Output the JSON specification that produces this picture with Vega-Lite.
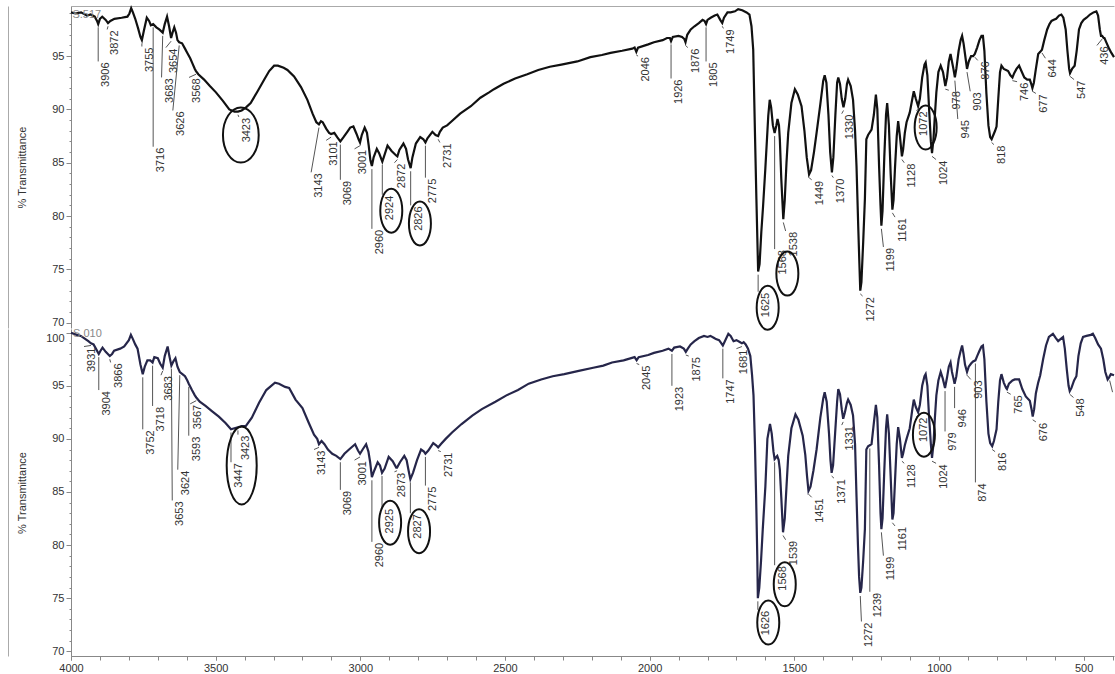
{
"$schema":"https://vega.github.io/schema/vega-lite/v6.json",
"padding":{"left":8,"top":3,"right":0,"bottom":0},
"background":"white",
"spacing":1,
"bounds":"flush",
"config":{"view":{"stroke":null},"font":"Liberation Sans","axis":{"grid":false,"labelFont":"Liberation Sans","titleFont":"Liberation Sans"}},
"datasets":{
"top":[{"w":4000,"v":99.1},{"w":3985,"v":99.0},{"w":3965,"v":99.1},{"w":3945,"v":98.8},{"w":3932,"v":98.9},{"w":3918,"v":98.7},{"w":3910,"v":98.3},{"w":3906,"v":98.0},{"w":3900,"v":98.5},{"w":3892,"v":98.7},{"w":3880,"v":98.4},{"w":3872,"v":98.1},{"w":3864,"v":98.3},{"w":3850,"v":98.5},{"w":3825,"v":98.6},{"w":3805,"v":98.7},{"w":3798,"v":99.0},{"w":3792,"v":99.5},{"w":3786,"v":99.1},{"w":3778,"v":98.5},{"w":3768,"v":97.6},{"w":3760,"v":96.8},{"w":3755,"v":96.5},{"w":3748,"v":97.4},{"w":3738,"v":98.6},{"w":3730,"v":98.3},{"w":3724,"v":97.9},{"w":3716,"v":98.0},{"w":3705,"v":97.7},{"w":3695,"v":97.5},{"w":3683,"v":97.2},{"w":3676,"v":98.0},{"w":3668,"v":98.7},{"w":3661,"v":97.8},{"w":3654,"v":96.7},{"w":3649,"v":97.2},{"w":3643,"v":97.7},{"w":3637,"v":97.2},{"w":3632,"v":96.5},{"w":3626,"v":96.3},{"w":3616,"v":96.2},{"w":3606,"v":95.7},{"w":3598,"v":95.3},{"w":3588,"v":94.8},{"w":3580,"v":94.3},{"w":3572,"v":93.8},{"w":3568,"v":93.6},{"w":3560,"v":93.3},{"w":3540,"v":92.8},{"w":3520,"v":92.2},{"w":3499,"v":91.6},{"w":3475,"v":90.8},{"w":3453,"v":90.0},{"w":3435,"v":89.8},{"w":3423,"v":89.8},{"w":3410,"v":89.9},{"w":3395,"v":90.2},{"w":3379,"v":90.6},{"w":3355,"v":91.7},{"w":3332,"v":92.8},{"w":3315,"v":93.6},{"w":3298,"v":94.1},{"w":3285,"v":94.1},{"w":3265,"v":93.9},{"w":3252,"v":93.7},{"w":3229,"v":93.1},{"w":3205,"v":92.1},{"w":3183,"v":90.9},{"w":3165,"v":89.6},{"w":3152,"v":88.8},{"w":3143,"v":88.6},{"w":3136,"v":88.9},{"w":3130,"v":88.8},{"w":3118,"v":88.2},{"w":3108,"v":87.8},{"w":3101,"v":87.7},{"w":3090,"v":87.8},{"w":3080,"v":87.4},{"w":3069,"v":87.0},{"w":3058,"v":87.4},{"w":3045,"v":87.9},{"w":3035,"v":88.3},{"w":3024,"v":88.4},{"w":3013,"v":87.7},{"w":3006,"v":87.2},{"w":3001,"v":86.9},{"w":2995,"v":87.6},{"w":2985,"v":88.3},{"w":2977,"v":87.8},{"w":2971,"v":86.6},{"w":2965,"v":85.2},{"w":2960,"v":84.7},{"w":2954,"v":85.5},{"w":2943,"v":86.3},{"w":2935,"v":85.9},{"w":2924,"v":85.1},{"w":2918,"v":85.6},{"w":2906,"v":86.6},{"w":2892,"v":86.1},{"w":2877,"v":85.7},{"w":2872,"v":85.6},{"w":2865,"v":86.2},{"w":2851,"v":86.8},{"w":2842,"v":86.3},{"w":2835,"v":85.3},{"w":2826,"v":84.5},{"w":2820,"v":85.5},{"w":2808,"v":86.8},{"w":2793,"v":87.4},{"w":2782,"v":87.2},{"w":2775,"v":86.9},{"w":2768,"v":87.3},{"w":2751,"v":87.9},{"w":2740,"v":87.6},{"w":2731,"v":87.5},{"w":2725,"v":87.9},{"w":2715,"v":88.3},{"w":2700,"v":88.5},{"w":2688,"v":88.8},{"w":2655,"v":89.6},{"w":2618,"v":90.3},{"w":2585,"v":91.1},{"w":2555,"v":91.6},{"w":2538,"v":91.9},{"w":2505,"v":92.4},{"w":2465,"v":92.9},{"w":2423,"v":93.3},{"w":2385,"v":93.7},{"w":2345,"v":94.0},{"w":2305,"v":94.2},{"w":2250,"v":94.5},{"w":2205,"v":94.9},{"w":2165,"v":95.1},{"w":2135,"v":95.3},{"w":2095,"v":95.5},{"w":2060,"v":95.7},{"w":2052,"v":95.8},{"w":2046,"v":95.4},{"w":2040,"v":95.8},{"w":2005,"v":96.1},{"w":1985,"v":96.3},{"w":1955,"v":96.5},{"w":1940,"v":96.7},{"w":1930,"v":96.7},{"w":1926,"v":96.4},{"w":1920,"v":96.8},{"w":1900,"v":96.9},{"w":1888,"v":96.8},{"w":1880,"v":96.6},{"w":1876,"v":96.3},{"w":1870,"v":97.0},{"w":1858,"v":97.5},{"w":1845,"v":97.8},{"w":1830,"v":98.1},{"w":1817,"v":98.4},{"w":1810,"v":98.3},{"w":1805,"v":98.0},{"w":1800,"v":98.4},{"w":1789,"v":98.6},{"w":1775,"v":98.8},{"w":1766,"v":98.9},{"w":1756,"v":98.4},{"w":1749,"v":98.1},{"w":1743,"v":98.6},{"w":1731,"v":99.1},{"w":1720,"v":99.1},{"w":1705,"v":99.2},{"w":1694,"v":99.4},{"w":1680,"v":99.3},{"w":1665,"v":99.1},{"w":1655,"v":98.9},{"w":1648,"v":97.8},{"w":1642,"v":95.6},{"w":1636,"v":87.8},{"w":1631,"v":81.6},{"w":1625,"v":74.8},{"w":1620,"v":75.5},{"w":1614,"v":78.5},{"w":1608,"v":80.9},{"w":1600,"v":84.5},{"w":1590,"v":89.4},{"w":1585,"v":90.9},{"w":1580,"v":90.2},{"w":1574,"v":88.5},{"w":1568,"v":87.8},{"w":1562,"v":88.5},{"w":1558,"v":89.1},{"w":1553,"v":88.5},{"w":1550,"v":87.2},{"w":1545,"v":83.5},{"w":1538,"v":79.7},{"w":1533,"v":81.5},{"w":1527,"v":85.0},{"w":1521,"v":87.8},{"w":1510,"v":90.6},{"w":1498,"v":91.9},{"w":1488,"v":91.4},{"w":1475,"v":90.3},{"w":1465,"v":88.0},{"w":1457,"v":85.5},{"w":1449,"v":83.9},{"w":1442,"v":84.3},{"w":1432,"v":86.0},{"w":1423,"v":87.8},{"w":1410,"v":90.5},{"w":1400,"v":92.7},{"w":1395,"v":93.2},{"w":1389,"v":92.5},{"w":1382,"v":89.5},{"w":1376,"v":86.0},{"w":1370,"v":84.1},{"w":1365,"v":85.5},{"w":1358,"v":89.5},{"w":1352,"v":92.5},{"w":1348,"v":93.0},{"w":1342,"v":92.4},{"w":1336,"v":91.0},{"w":1330,"v":90.2},{"w":1324,"v":91.0},{"w":1318,"v":92.4},{"w":1314,"v":92.8},{"w":1305,"v":92.2},{"w":1297,"v":90.9},{"w":1290,"v":88.0},{"w":1285,"v":84.7},{"w":1279,"v":79.0},{"w":1275,"v":75.5},{"w":1272,"v":73.0},{"w":1268,"v":73.8},{"w":1262,"v":77.5},{"w":1256,"v":81.6},{"w":1251,"v":87.2},{"w":1245,"v":87.6},{"w":1233,"v":88.1},{"w":1225,"v":89.5},{"w":1218,"v":91.4},{"w":1213,"v":90.0},{"w":1207,"v":84.7},{"w":1202,"v":81.0},{"w":1199,"v":79.1},{"w":1195,"v":80.5},{"w":1189,"v":85.5},{"w":1183,"v":89.5},{"w":1179,"v":90.6},{"w":1173,"v":88.5},{"w":1167,"v":84.0},{"w":1161,"v":80.6},{"w":1157,"v":81.5},{"w":1152,"v":84.5},{"w":1146,"v":87.5},{"w":1141,"v":88.9},{"w":1135,"v":87.5},{"w":1128,"v":85.6},{"w":1124,"v":86.2},{"w":1118,"v":87.8},{"w":1112,"v":88.8},{"w":1101,"v":89.7},{"w":1092,"v":91.0},{"w":1087,"v":91.7},{"w":1080,"v":91.0},{"w":1072,"v":90.3},{"w":1066,"v":91.0},{"w":1058,"v":93.0},{"w":1050,"v":94.2},{"w":1046,"v":94.4},{"w":1040,"v":93.2},{"w":1034,"v":90.0},{"w":1028,"v":87.0},{"w":1024,"v":85.9},{"w":1019,"v":87.2},{"w":1014,"v":89.5},{"w":1009,"v":91.6},{"w":1002,"v":93.5},{"w":994,"v":94.1},{"w":986,"v":93.5},{"w":978,"v":92.2},{"w":972,"v":93.0},{"w":966,"v":94.5},{"w":960,"v":95.2},{"w":955,"v":94.5},{"w":950,"v":93.8},{"w":945,"v":93.0},{"w":940,"v":93.8},{"w":932,"v":95.5},{"w":925,"v":96.5},{"w":920,"v":96.9},{"w":915,"v":96.2},{"w":910,"v":95.2},{"w":903,"v":93.8},{"w":897,"v":94.5},{"w":889,"v":95.0},{"w":882,"v":95.0},{"w":876,"v":95.2},{"w":868,"v":95.8},{"w":860,"v":96.5},{"w":853,"v":96.9},{"w":848,"v":96.9},{"w":843,"v":95.5},{"w":836,"v":91.5},{"w":829,"v":88.5},{"w":823,"v":87.4},{"w":818,"v":87.2},{"w":812,"v":87.6},{"w":806,"v":88.0},{"w":801,"v":88.4},{"w":795,"v":91.0},{"w":789,"v":93.5},{"w":784,"v":94.1},{"w":776,"v":93.8},{"w":768,"v":93.7},{"w":761,"v":93.6},{"w":753,"v":93.2},{"w":746,"v":93.0},{"w":740,"v":93.4},{"w":732,"v":93.8},{"w":723,"v":94.1},{"w":715,"v":93.6},{"w":705,"v":93.0},{"w":695,"v":92.8},{"w":686,"v":92.8},{"w":680,"v":92.3},{"w":677,"v":92.0},{"w":672,"v":92.5},{"w":665,"v":93.8},{"w":657,"v":95.2},{"w":650,"v":95.4},{"w":644,"v":95.6},{"w":636,"v":96.5},{"w":626,"v":97.5},{"w":618,"v":98.0},{"w":611,"v":98.3},{"w":603,"v":98.4},{"w":595,"v":98.5},{"w":585,"v":98.8},{"w":577,"v":98.9},{"w":570,"v":98.6},{"w":562,"v":97.5},{"w":556,"v":95.5},{"w":550,"v":93.8},{"w":547,"v":93.4},{"w":540,"v":93.8},{"w":531,"v":94.1},{"w":524,"v":95.5},{"w":516,"v":97.5},{"w":508,"v":98.1},{"w":500,"v":98.4},{"w":490,"v":98.6},{"w":478,"v":98.9},{"w":466,"v":99.1},{"w":456,"v":99.2},{"w":450,"v":98.8},{"w":444,"v":97.5},{"w":440,"v":96.9},{"w":436,"v":96.9},{"w":431,"v":96.7},{"w":428,"v":96.7},{"w":420,"v":96.2},{"w":412,"v":95.7},{"w":404,"v":95.3},{"w":395,"v":94.9}],
"bot":[{"w":4000,"v":100.0},{"w":3980,"v":99.8},{"w":3966,"v":99.7},{"w":3950,"v":99.4},{"w":3940,"v":99.2},{"w":3931,"v":99.0},{"w":3922,"v":98.9},{"w":3914,"v":98.5},{"w":3904,"v":98.0},{"w":3898,"v":98.3},{"w":3891,"v":98.6},{"w":3880,"v":98.2},{"w":3866,"v":97.8},{"w":3858,"v":98.0},{"w":3851,"v":98.3},{"w":3830,"v":98.5},{"w":3816,"v":98.7},{"w":3800,"v":99.3},{"w":3793,"v":99.8},{"w":3786,"v":99.4},{"w":3778,"v":98.9},{"w":3770,"v":98.5},{"w":3760,"v":97.0},{"w":3752,"v":96.1},{"w":3745,"v":96.8},{"w":3736,"v":97.4},{"w":3726,"v":97.4},{"w":3718,"v":97.2},{"w":3712,"v":97.7},{"w":3700,"v":97.6},{"w":3692,"v":97.1},{"w":3683,"v":96.7},{"w":3676,"v":97.8},{"w":3666,"v":98.7},{"w":3660,"v":97.8},{"w":3653,"v":96.9},{"w":3646,"v":97.3},{"w":3639,"v":97.6},{"w":3632,"v":96.8},{"w":3624,"v":96.3},{"w":3615,"v":96.1},{"w":3606,"v":95.9},{"w":3598,"v":95.5},{"w":3593,"v":95.2},{"w":3582,"v":94.6},{"w":3572,"v":94.1},{"w":3567,"v":93.9},{"w":3555,"v":93.5},{"w":3535,"v":93.1},{"w":3512,"v":92.6},{"w":3489,"v":92.1},{"w":3466,"v":91.5},{"w":3447,"v":90.9},{"w":3435,"v":91.0},{"w":3423,"v":91.1},{"w":3410,"v":91.2},{"w":3396,"v":91.2},{"w":3375,"v":92.0},{"w":3350,"v":93.4},{"w":3325,"v":94.6},{"w":3295,"v":95.3},{"w":3281,"v":95.2},{"w":3260,"v":94.9},{"w":3246,"v":94.8},{"w":3224,"v":93.7},{"w":3200,"v":92.9},{"w":3178,"v":91.5},{"w":3160,"v":90.4},{"w":3149,"v":90.0},{"w":3143,"v":89.5},{"w":3134,"v":89.8},{"w":3124,"v":89.5},{"w":3112,"v":89.0},{"w":3097,"v":88.6},{"w":3083,"v":88.4},{"w":3069,"v":88.1},{"w":3055,"v":88.6},{"w":3039,"v":89.0},{"w":3018,"v":89.5},{"w":3008,"v":88.9},{"w":3001,"v":88.6},{"w":2992,"v":89.0},{"w":2980,"v":89.5},{"w":2972,"v":88.8},{"w":2966,"v":87.8},{"w":2960,"v":86.4},{"w":2952,"v":87.0},{"w":2940,"v":87.8},{"w":2932,"v":87.5},{"w":2925,"v":86.8},{"w":2916,"v":87.2},{"w":2902,"v":88.3},{"w":2888,"v":87.9},{"w":2876,"v":87.3},{"w":2873,"v":87.3},{"w":2863,"v":87.8},{"w":2848,"v":88.4},{"w":2840,"v":88.0},{"w":2833,"v":87.0},{"w":2827,"v":86.2},{"w":2818,"v":86.8},{"w":2804,"v":88.0},{"w":2790,"v":89.0},{"w":2780,"v":88.8},{"w":2775,"v":88.6},{"w":2765,"v":88.9},{"w":2748,"v":89.6},{"w":2738,"v":89.4},{"w":2731,"v":89.2},{"w":2722,"v":89.5},{"w":2705,"v":90.0},{"w":2683,"v":90.6},{"w":2650,"v":91.4},{"w":2613,"v":92.2},{"w":2580,"v":92.8},{"w":2533,"v":93.5},{"w":2495,"v":94.1},{"w":2455,"v":94.6},{"w":2418,"v":95.2},{"w":2375,"v":95.6},{"w":2335,"v":95.9},{"w":2295,"v":96.1},{"w":2245,"v":96.4},{"w":2195,"v":96.7},{"w":2160,"v":96.9},{"w":2130,"v":97.2},{"w":2090,"v":97.4},{"w":2052,"v":97.7},{"w":2045,"v":97.4},{"w":2038,"v":97.7},{"w":2005,"v":97.9},{"w":1985,"v":98.1},{"w":1955,"v":98.3},{"w":1935,"v":98.5},{"w":1923,"v":98.3},{"w":1915,"v":98.6},{"w":1895,"v":98.7},{"w":1882,"v":98.5},{"w":1875,"v":98.2},{"w":1868,"v":98.5},{"w":1858,"v":98.9},{"w":1845,"v":99.2},{"w":1830,"v":99.5},{"w":1812,"v":99.7},{"w":1800,"v":99.6},{"w":1790,"v":99.7},{"w":1777,"v":99.5},{"w":1771,"v":99.4},{"w":1760,"v":99.3},{"w":1752,"v":99.0},{"w":1747,"v":98.8},{"w":1740,"v":99.2},{"w":1728,"v":99.9},{"w":1720,"v":99.7},{"w":1710,"v":99.2},{"w":1700,"v":99.3},{"w":1687,"v":99.1},{"w":1681,"v":99.0},{"w":1675,"v":99.1},{"w":1668,"v":98.9},{"w":1660,"v":98.5},{"w":1652,"v":97.8},{"w":1646,"v":96.0},{"w":1641,"v":94.1},{"w":1636,"v":89.5},{"w":1632,"v":84.6},{"w":1628,"v":79.0},{"w":1626,"v":75.0},{"w":1621,"v":76.0},{"w":1615,"v":78.5},{"w":1609,"v":81.5},{"w":1600,"v":85.5},{"w":1593,"v":90.0},{"w":1584,"v":91.4},{"w":1578,"v":90.5},{"w":1572,"v":88.8},{"w":1568,"v":88.1},{"w":1562,"v":88.3},{"w":1559,"v":88.4},{"w":1554,"v":88.0},{"w":1550,"v":87.1},{"w":1545,"v":84.5},{"w":1539,"v":81.2},{"w":1533,"v":82.5},{"w":1527,"v":85.5},{"w":1521,"v":88.4},{"w":1510,"v":91.0},{"w":1496,"v":92.3},{"w":1486,"v":91.8},{"w":1471,"v":90.3},{"w":1462,"v":88.5},{"w":1456,"v":86.5},{"w":1451,"v":85.1},{"w":1444,"v":85.5},{"w":1434,"v":87.0},{"w":1423,"v":89.0},{"w":1410,"v":92.0},{"w":1400,"v":93.8},{"w":1395,"v":94.4},{"w":1388,"v":93.5},{"w":1380,"v":90.5},{"w":1375,"v":88.0},{"w":1371,"v":86.8},{"w":1366,"v":87.5},{"w":1359,"v":90.5},{"w":1352,"v":93.5},{"w":1348,"v":94.7},{"w":1342,"v":94.2},{"w":1336,"v":92.8},{"w":1331,"v":91.9},{"w":1325,"v":92.5},{"w":1318,"v":93.4},{"w":1314,"v":93.7},{"w":1305,"v":93.2},{"w":1297,"v":92.2},{"w":1290,"v":89.5},{"w":1285,"v":84.6},{"w":1280,"v":80.0},{"w":1276,"v":77.0},{"w":1272,"v":75.5},{"w":1268,"v":76.0},{"w":1262,"v":78.5},{"w":1256,"v":81.5},{"w":1251,"v":89.0},{"w":1245,"v":89.3},{"w":1239,"v":89.4},{"w":1233,"v":89.5},{"w":1225,"v":91.5},{"w":1218,"v":93.2},{"w":1213,"v":92.0},{"w":1207,"v":87.5},{"w":1202,"v":83.0},{"w":1199,"v":81.5},{"w":1195,"v":82.5},{"w":1189,"v":87.0},{"w":1183,"v":91.0},{"w":1179,"v":92.3},{"w":1173,"v":90.5},{"w":1167,"v":86.5},{"w":1161,"v":82.4},{"w":1157,"v":83.0},{"w":1152,"v":86.0},{"w":1146,"v":89.5},{"w":1141,"v":91.1},{"w":1135,"v":90.0},{"w":1128,"v":88.2},{"w":1124,"v":88.6},{"w":1118,"v":89.4},{"w":1112,"v":90.0},{"w":1101,"v":91.0},{"w":1092,"v":92.8},{"w":1087,"v":93.7},{"w":1080,"v":93.0},{"w":1072,"v":92.5},{"w":1066,"v":93.2},{"w":1058,"v":95.0},{"w":1050,"v":95.9},{"w":1046,"v":96.1},{"w":1040,"v":95.0},{"w":1034,"v":92.0},{"w":1028,"v":89.5},{"w":1024,"v":88.2},{"w":1019,"v":89.5},{"w":1014,"v":92.0},{"w":1009,"v":94.1},{"w":1002,"v":95.5},{"w":994,"v":96.3},{"w":987,"v":95.7},{"w":979,"v":94.8},{"w":972,"v":95.8},{"w":966,"v":96.8},{"w":960,"v":97.2},{"w":955,"v":96.3},{"w":950,"v":95.7},{"w":946,"v":95.2},{"w":940,"v":95.9},{"w":932,"v":97.5},{"w":925,"v":98.3},{"w":920,"v":98.8},{"w":915,"v":98.0},{"w":910,"v":97.0},{"w":903,"v":96.3},{"w":897,"v":96.8},{"w":889,"v":97.1},{"w":882,"v":97.3},{"w":874,"v":97.4},{"w":868,"v":97.8},{"w":860,"v":98.3},{"w":853,"v":98.7},{"w":848,"v":98.8},{"w":843,"v":97.5},{"w":836,"v":93.5},{"w":829,"v":90.5},{"w":823,"v":89.6},{"w":816,"v":89.3},{"w":810,"v":89.8},{"w":801,"v":90.9},{"w":795,"v":93.5},{"w":789,"v":95.5},{"w":784,"v":96.1},{"w":776,"v":95.3},{"w":768,"v":94.8},{"w":765,"v":94.7},{"w":758,"v":95.2},{"w":746,"v":95.5},{"w":738,"v":95.6},{"w":723,"v":95.6},{"w":712,"v":94.7},{"w":700,"v":94.0},{"w":686,"v":93.6},{"w":680,"v":92.8},{"w":676,"v":92.1},{"w":671,"v":92.8},{"w":665,"v":94.3},{"w":657,"v":95.3},{"w":650,"v":96.0},{"w":640,"v":97.5},{"w":630,"v":98.8},{"w":620,"v":99.6},{"w":606,"v":99.9},{"w":596,"v":99.5},{"w":588,"v":99.2},{"w":580,"v":99.4},{"w":571,"v":99.6},{"w":565,"v":98.5},{"w":558,"v":96.5},{"w":552,"v":95.0},{"w":548,"v":94.5},{"w":542,"v":94.8},{"w":533,"v":95.5},{"w":525,"v":95.9},{"w":518,"v":97.8},{"w":510,"v":99.0},{"w":502,"v":99.6},{"w":490,"v":99.7},{"w":475,"v":99.8},{"w":468,"v":99.9},{"w":460,"v":99.5},{"w":450,"v":98.9},{"w":440,"v":98.5},{"w":432,"v":97.5},{"w":425,"v":96.3},{"w":417,"v":95.6},{"w":412,"v":95.8},{"w":406,"v":96.1},{"w":395,"v":96.0}],
"topLab":[{"t":"3906","x":3906,"y":97.7,"lx":3906,"ly":94.5},{"t":"3872","x":3872,"y":97.8,"lx":3875,"ly":97.5},{"t":"3755","x":3755,"y":96.2,"lx":3755,"ly":95.9},{"t":"3716","x":3716,"y":97.7,"lx":3716,"ly":86.5},{"t":"3683","x":3683,"y":96.9,"lx":3687,"ly":93.0},{"t":"3654","x":3654,"y":96.4,"lx":3672,"ly":95.8},{"t":"3626","x":3626,"y":96.0,"lx":3648,"ly":89.9},{"t":"3568","x":3568,"y":93.3,"lx":3592,"ly":93.0},{"t":"3423","x":3423,"y":89.5,"lx":3420,"ly":89.3,"ex":3413,"ey":87.6,"ring":"b"},{"t":"3143","x":3143,"y":88.3,"lx":3170,"ly":84.1},{"t":"3101","x":3101,"y":87.4,"lx":3118,"ly":87.1},{"t":"3069","x":3069,"y":86.7,"lx":3069,"ly":83.4},{"t":"3001","x":3001,"y":86.6,"lx":3020,"ly":86.3},{"t":"2960","x":2960,"y":84.4,"lx":2960,"ly":78.8},{"t":"2924","x":2924,"y":84.8,"lx":2924,"ly":82.0,"ex":2893,"ey":80.5,"ring":"s"},{"t":"2872","x":2872,"y":85.3,"lx":2882,"ly":85.0},{"t":"2826","x":2826,"y":84.2,"lx":2826,"ly":81.0,"ex":2794,"ey":79.3,"ring":"s"},{"t":"2775","x":2775,"y":86.6,"lx":2775,"ly":83.6},{"t":"2731","x":2731,"y":87.2,"lx":2725,"ly":86.9},{"t":"2046","x":2046,"y":95.1,"lx":2040,"ly":95.0},{"t":"1926","x":1926,"y":96.1,"lx":1926,"ly":92.9},{"t":"1876","x":1876,"y":96.0,"lx":1868,"ly":95.8},{"t":"1805","x":1805,"y":97.7,"lx":1805,"ly":94.5},{"t":"1749","x":1749,"y":97.8,"lx":1745,"ly":97.6},{"t":"1625","x":1625,"y":74.5,"lx":1625,"ly":72.9,"ex":1592,"ey":71.4,"ring":"s"},{"t":"1568","x":1568,"y":87.5,"lx":1568,"ly":76.9,"ex":1524,"ey":74.6,"ring":"s"},{"t":"1538","x":1538,"y":79.4,"lx":1530,"ly":78.6},{"t":"1449","x":1449,"y":83.6,"lx":1440,"ly":83.4},{"t":"1370","x":1370,"y":83.8,"lx":1365,"ly":83.6},{"t":"1330","x":1330,"y":89.9,"lx":1336,"ly":89.6},{"t":"1272","x":1272,"y":72.7,"lx":1264,"ly":72.5},{"t":"1199","x":1199,"y":78.8,"lx":1192,"ly":77.1},{"t":"1161","x":1161,"y":80.3,"lx":1152,"ly":79.9},{"t":"1128","x":1128,"y":85.3,"lx":1120,"ly":85.0},{"t":"1072","x":1072,"y":90.0,"lx":1078,"ly":89.9,"ex":1046,"ey":88.3,"ring":"s"},{"t":"1024","x":1024,"y":85.6,"lx":1010,"ly":85.3},{"t":"978","x":978,"y":91.9,"lx":966,"ly":91.8},{"t":"945","x":945,"y":92.7,"lx":935,"ly":89.1},{"t":"903","x":903,"y":93.5,"lx":892,"ly":91.7},{"t":"876","x":876,"y":94.9,"lx":866,"ly":94.6},{"t":"818","x":818,"y":86.9,"lx":810,"ly":86.7},{"t":"746","x":746,"y":92.7,"lx":730,"ly":92.6},{"t":"677","x":677,"y":91.7,"lx":665,"ly":91.5},{"t":"644","x":644,"y":95.3,"lx":632,"ly":94.8},{"t":"547","x":547,"y":93.1,"lx":533,"ly":92.8},{"t":"436","x":436,"y":96.6,"lx":454,"ly":96.0}],
"botLab":[{"t":"3931","x":3931,"y":98.8,"lx":3955,"ly":98.7},{"t":"3904","x":3904,"y":97.7,"lx":3904,"ly":94.6},{"t":"3866","x":3866,"y":97.5,"lx":3863,"ly":97.2},{"t":"3752","x":3752,"y":95.8,"lx":3752,"ly":90.9},{"t":"3718","x":3718,"y":96.9,"lx":3718,"ly":93.1},{"t":"3683","x":3683,"y":96.4,"lx":3689,"ly":96.0},{"t":"3653","x":3653,"y":96.6,"lx":3650,"ly":84.2},{"t":"3624","x":3624,"y":96.0,"lx":3631,"ly":87.1},{"t":"3593","x":3593,"y":94.9,"lx":3593,"ly":90.3},{"t":"3567","x":3567,"y":93.6,"lx":3588,"ly":93.3},{"t":"3447","x":3447,"y":90.6,"lx":3447,"ly":87.8},{"t":"3423","x":3423,"y":90.8,"lx":3423,"ly":90.4,"ex":3410,"ey":87.5,"ring":"b"},{"t":"3143","x":3143,"y":89.2,"lx":3160,"ly":89.0},{"t":"3069","x":3069,"y":87.8,"lx":3069,"ly":85.2},{"t":"3001","x":3001,"y":88.3,"lx":3020,"ly":88.0},{"t":"2960","x":2960,"y":86.1,"lx":2960,"ly":80.3},{"t":"2925","x":2925,"y":86.5,"lx":2925,"ly":83.5,"ex":2897,"ey":82.1,"ring":"s"},{"t":"2873","x":2873,"y":87.0,"lx":2882,"ly":86.9},{"t":"2827","x":2827,"y":85.9,"lx":2827,"ly":83.0,"ex":2797,"ey":81.3,"ring":"s"},{"t":"2775","x":2775,"y":88.3,"lx":2775,"ly":85.6},{"t":"2731","x":2731,"y":88.9,"lx":2722,"ly":88.8},{"t":"2045","x":2045,"y":97.1,"lx":2036,"ly":97.0},{"t":"1923","x":1923,"y":98.0,"lx":1923,"ly":95.0},{"t":"1875","x":1875,"y":97.9,"lx":1865,"ly":97.8},{"t":"1747","x":1747,"y":98.5,"lx":1747,"ly":95.7},{"t":"1681","x":1681,"y":98.7,"lx":1700,"ly":98.5},{"t":"1626","x":1626,"y":74.7,"lx":1626,"ly":73.9,"ex":1590,"ey":72.7,"ring":"s"},{"t":"1568","x":1568,"y":87.8,"lx":1568,"ly":78.1,"ex":1533,"ey":76.3,"ring":"s"},{"t":"1539","x":1539,"y":80.9,"lx":1530,"ly":80.5},{"t":"1451","x":1451,"y":84.8,"lx":1440,"ly":84.5},{"t":"1371","x":1371,"y":86.5,"lx":1363,"ly":86.3},{"t":"1331","x":1331,"y":91.6,"lx":1336,"ly":91.3},{"t":"1272","x":1272,"y":75.2,"lx":1268,"ly":72.8},{"t":"1239","x":1239,"y":89.1,"lx":1239,"ly":75.6},{"t":"1199","x":1199,"y":81.2,"lx":1192,"ly":79.0},{"t":"1161","x":1161,"y":82.1,"lx":1152,"ly":81.8},{"t":"1128","x":1128,"y":87.9,"lx":1120,"ly":87.7},{"t":"1072","x":1072,"y":92.2,"lx":1078,"ly":92.1,"ex":1052,"ey":90.4,"ring":"s"},{"t":"1024","x":1024,"y":87.9,"lx":1010,"ly":87.7},{"t":"979","x":979,"y":94.5,"lx":979,"ly":90.7},{"t":"946","x":946,"y":94.9,"lx":946,"ly":92.9},{"t":"903","x":903,"y":96.0,"lx":890,"ly":95.6},{"t":"874","x":874,"y":97.1,"lx":874,"ly":85.9},{"t":"816","x":816,"y":89.0,"lx":806,"ly":88.8},{"t":"765","x":765,"y":94.4,"lx":752,"ly":94.2},{"t":"676","x":676,"y":91.8,"lx":665,"ly":91.6},{"t":"548","x":548,"y":94.2,"lx":535,"ly":93.9},{"t":"410","x":410,"y":95.5,"lx":400,"ly":94.4}],
"names":[{"p":"top","t":"S.517","w":3995,"v":98.9},{"p":"bot","t":"S.010","w":3993,"v":99.9}]
},
"vconcat":[
{"width":1043,"height":322,
 "resolve":{"axis":{"x":"independent","y":"independent"}},
 "layer":[
  {"data":{"name":"top"},"mark":{"type":"line","color":"#111111","strokeWidth":2.2},
   "encoding":{
    "x":{"field":"w","type":"quantitative","scale":{"domain":[395,4000],"reverse":true,"nice":false,"zero":false},
         "axis":{"orient":"top","title":null,"labels":false,"ticks":false,"domainColor":"#aaaaaa","minExtent":0,"maxExtent":0}},
    "y":{"field":"v","type":"quantitative","scale":{"domain":[69.5,99.7],"nice":false,"zero":false},
         "axis":{"orient":"left","title":"% Transmittance","titleFontWeight":"normal","titleFontSize":11,"titleColor":"#333333","titlePadding":4,
                 "values":[70,75,80,85,90,95],"format":"d","tickSize":5,
                 "domainColor":"#888888","tickColor":"#888888","labelColor":"#333333","labelFontSize":11,"labelPadding":2,
                 "labelOverlap":false,"labelBound":false,"minExtent":40,"maxExtent":40}}}},
  {"data":{"name":"topLab"},"mark":{"type":"rule","color":"#555555","strokeWidth":1},
   "encoding":{"x":{"field":"x","type":"quantitative","axis":null},"x2":{"field":"lx"},
    "y":{"field":"y","type":"quantitative","axis":{"orient":"left","title":null,"labels":false,"domain":false,"tickSize":2,"tickColor":"#888888",
         "values":[70,71,72,73,74,75,76,77,78,79,80,81,82,83,84,85,86,87,88,89,90,91,92,93,94,95,96,97,98,99],"minExtent":0,"maxExtent":0}},"y2":{"field":"ly"}}},
  {"data":{"name":"topLab"},"mark":{"type":"text","angle":270,"align":"right","baseline":"top","fontSize":11,"color":"#333333","dx":-1,"dy":2},
   "encoding":{"x":{"field":"lx","type":"quantitative","axis":null},
    "y":{"field":"ly","type":"quantitative","axis":{"orient":"left","offset":63,"title":null,"labels":false,"ticks":false,"domain":true,"domainColor":"#aaaaaa","minExtent":0,"maxExtent":0}},"text":{"field":"t"}}},
  {"data":{"name":"topLab"},"transform":[{"filter":"datum.ring === 's'"}],
   "mark":{"type":"point","shape":"M0,-1A0.5,1 0 1,1 0,1A0.5,1 0 1,1 0,-1Z","size":1936,"filled":false,"color":"#111111","strokeWidth":2,"opacity":1},
   "encoding":{"x":{"field":"ex","type":"quantitative","axis":null},"y":{"field":"ey","type":"quantitative","axis":null}}},
  {"data":{"name":"topLab"},"transform":[{"filter":"datum.ring === 'b'"}],
   "mark":{"type":"point","shape":"M0,-1A0.65,1 0 1,1 0,1A0.65,1 0 1,1 0,-1Z","size":3025,"filled":false,"color":"#111111","strokeWidth":2,"opacity":1},
   "encoding":{"x":{"field":"ex","type":"quantitative","axis":null},"y":{"field":"ey","type":"quantitative","axis":null}}},
  {"data":{"name":"names"},"transform":[{"filter":"datum.p === 'top'"}],
   "mark":{"type":"text","align":"left","baseline":"middle","fontSize":11,"color":"#888888"},
   "encoding":{"x":{"field":"w","type":"quantitative","axis":null},"y":{"field":"v","type":"quantitative","axis":null},"text":{"field":"t"}}}
 ]},
{"width":1043,"height":327,
 "resolve":{"axis":{"x":"independent","y":"independent"}},
 "layer":[
  {"data":{"name":"bot"},"mark":{"type":"line","color":"#26264a","strokeWidth":2.2},
   "encoding":{
    "x":{"field":"w","type":"quantitative","scale":{"domain":[395,4000],"reverse":true,"nice":false,"zero":false},
         "axis":{"orient":"bottom","title":null,"values":[4000,3500,3000,2500,2000,1500,1000,500],"format":"d",
                 "tickSize":4,"labelPadding":2,"labelFlush":false,"labelOverlap":false,"labelBound":false,
                 "domainColor":"#888888","tickColor":"#888888","labelColor":"#333333","labelFontSize":11}},
    "y":{"field":"v","type":"quantitative","scale":{"domain":[69.55,100.35],"nice":false,"zero":false},
         "axis":{"orient":"left","title":"% Transmittance","titleFontWeight":"normal","titleFontSize":11,"titleColor":"#333333","titlePadding":4,
                 "values":[70,75,80,85,90,95,100],"format":"d","tickSize":5,"labelFlush":4.3,
                 "domainColor":"#888888","tickColor":"#888888","labelColor":"#333333","labelFontSize":11,"labelPadding":2,
                 "labelOverlap":false,"labelBound":false,"minExtent":40,"maxExtent":40}}}},
  {"data":{"name":"botLab"},"mark":{"type":"rule","color":"#555555","strokeWidth":1},
   "encoding":{"x":{"field":"x","type":"quantitative","axis":{"orient":"bottom","title":null,"labels":false,"domain":false,"tickSize":4,"tickColor":"#888888",
         "values":[4000,3900,3800,3700,3600,3500,3400,3300,3200,3100,3000,2900,2800,2700,2600,2500,2400,2300,2200,2100,2000,1900,1800,1700,1600,1500,1400,1300,1200,1100,1000,900,800,700,600,500,400],"minExtent":0,"maxExtent":0}},"x2":{"field":"lx"},
    "y":{"field":"y","type":"quantitative","axis":{"orient":"left","title":null,"labels":false,"domain":false,"tickSize":2,"tickColor":"#888888",
         "values":[70,71,72,73,74,75,76,77,78,79,80,81,82,83,84,85,86,87,88,89,90,91,92,93,94,95,96,97,98,99,100],"minExtent":0,"maxExtent":0}},"y2":{"field":"ly"}}},
  {"data":{"name":"botLab"},"mark":{"type":"text","angle":270,"align":"right","baseline":"top","fontSize":11,"color":"#333333","dx":-1,"dy":2},
   "encoding":{"x":{"field":"lx","type":"quantitative","axis":null},
    "y":{"field":"ly","type":"quantitative","axis":{"orient":"left","offset":63,"title":null,"labels":false,"ticks":false,"domain":true,"domainColor":"#aaaaaa","minExtent":0,"maxExtent":0}},"text":{"field":"t"}}},
  {"data":{"name":"botLab"},"transform":[{"filter":"datum.ring === 's'"}],
   "mark":{"type":"point","shape":"M0,-1A0.5,1 0 1,1 0,1A0.5,1 0 1,1 0,-1Z","size":1936,"filled":false,"color":"#111111","strokeWidth":2,"opacity":1},
   "encoding":{"x":{"field":"ex","type":"quantitative","axis":null},"y":{"field":"ey","type":"quantitative","axis":null}}},
  {"data":{"name":"botLab"},"transform":[{"filter":"datum.ring === 'b'"}],
   "mark":{"type":"point","shape":"M0,-1A0.385,1 0 1,1 0,1A0.385,1 0 1,1 0,-1Z","size":6084,"filled":false,"color":"#111111","strokeWidth":2,"opacity":1},
   "encoding":{"x":{"field":"ex","type":"quantitative","axis":null},"y":{"field":"ey","type":"quantitative","axis":null}}},
  {"data":{"name":"names"},"transform":[{"filter":"datum.p === 'bot'"}],
   "mark":{"type":"text","align":"left","baseline":"middle","fontSize":11,"color":"#888888"},
   "encoding":{"x":{"field":"w","type":"quantitative","axis":null},"y":{"field":"v","type":"quantitative","axis":null},"text":{"field":"t"}}}
 ]}
]
}
